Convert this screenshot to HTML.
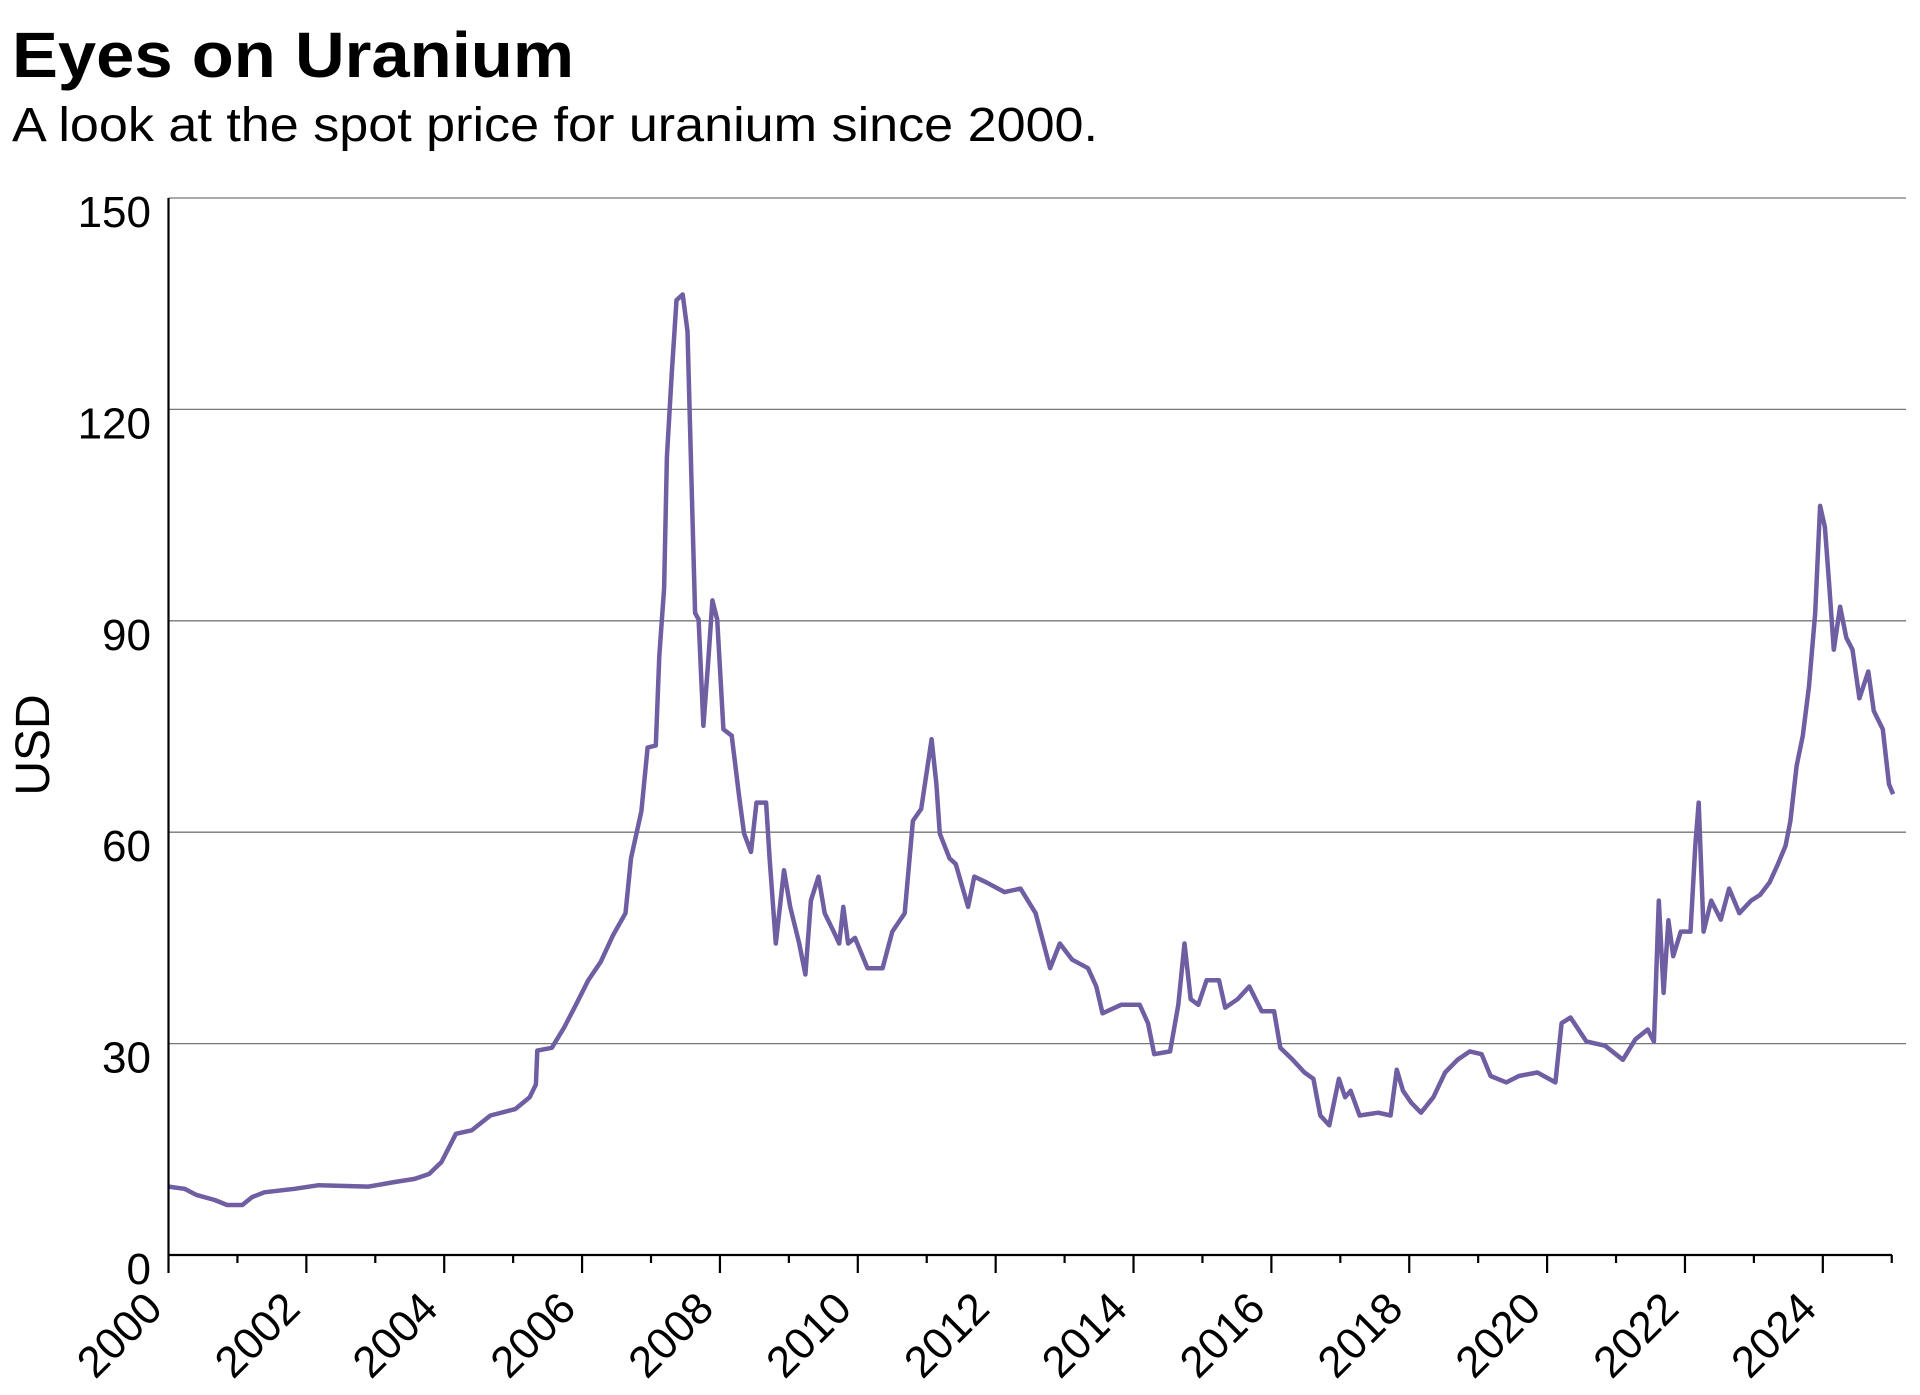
<!DOCTYPE html>
<html><head><meta charset="utf-8"><style>
html,body{margin:0;padding:0;background:#fff;width:1920px;height:1395px;overflow:hidden}
svg text{font-family:"Liberation Sans",sans-serif;fill:#000}
</style></head><body>
<svg id="chart" width="1920" height="1395" viewBox="0 0 1920 1395" xmlns="http://www.w3.org/2000/svg">
<text x="12" y="77" font-size="64" font-weight="bold" textLength="562" lengthAdjust="spacingAndGlyphs">Eyes on Uranium</text>
<text x="12" y="141" font-size="48" textLength="1086" lengthAdjust="spacingAndGlyphs">A look at the spot price for uranium since 2000.</text>
<text transform="translate(49,745) rotate(-90)" text-anchor="middle" font-size="48">USD</text>
<g id="grid"></g><g id="yticks"></g><g id="xticks"></g>
<path id="series" fill="none" stroke="#6f5ea2" stroke-width="4.5" stroke-linejoin="round"/>
<line x1="168.5" y1="198" x2="168.5" y2="1255" stroke="#000" stroke-width="2.2"/>
<line x1="168" y1="1255" x2="1892" y2="1255" stroke="#000" stroke-width="2.2"/>
</svg>
<script>
const years=[2000.0,2000.23,2000.41,2000.67,2000.85,2001.07,2001.21,2001.39,2001.83,2002.18,2002.9,2003.25,2003.57,2003.78,2003.96,2004.17,2004.4,2004.67,2005.03,2005.24,2005.33,2005.35,2005.56,2005.74,2005.91,2006.09,2006.27,2006.45,2006.63,2006.71,2006.86,2006.95,2007.07,2007.12,2007.19,2007.23,2007.3,2007.37,2007.46,2007.53,2007.6,2007.64,2007.69,2007.76,2007.83,2007.89,2007.96,2008.05,2008.17,2008.28,2008.35,2008.45,2008.53,2008.67,2008.72,2008.81,2008.93,2009.02,2009.15,2009.24,2009.32,2009.43,2009.52,2009.65,2009.73,2009.79,2009.86,2009.96,2010.14,2010.36,2010.5,2010.68,2010.8,2010.92,2011.07,2011.14,2011.19,2011.33,2011.42,2011.6,2011.69,2011.86,2012.13,2012.36,2012.58,2012.79,2012.93,2013.11,2013.34,2013.46,2013.55,2013.82,2014.09,2014.21,2014.3,2014.53,2014.65,2014.74,2014.83,2014.94,2015.06,2015.24,2015.33,2015.51,2015.68,2015.86,2016.04,2016.13,2016.31,2016.48,2016.61,2016.71,2016.84,2016.98,2017.07,2017.15,2017.28,2017.55,2017.73,2017.82,2017.91,2018.03,2018.17,2018.35,2018.52,2018.7,2018.88,2019.05,2019.18,2019.41,2019.59,2019.86,2020.12,2020.21,2020.34,2020.57,2020.84,2021.1,2021.28,2021.46,2021.55,2021.62,2021.69,2021.76,2021.83,2021.94,2022.08,2022.15,2022.2,2022.27,2022.38,2022.52,2022.64,2022.79,2022.96,2023.09,2023.23,2023.35,2023.46,2023.53,2023.62,2023.71,2023.8,2023.89,2023.96,2024.03,2024.09,2024.16,2024.25,2024.34,2024.43,2024.53,2024.66,2024.74,2024.87,2024.96,2025.02];
const prices=[9.7,9.4,8.5,7.8,7.1,7.1,8.2,8.9,9.4,9.9,9.7,10.3,10.8,11.5,13.2,17.2,17.7,19.8,20.7,22.4,24.2,29.0,29.4,32.3,35.5,39.0,41.6,45.4,48.5,56.3,63.0,72.0,72.3,85.0,94.6,113.2,125.0,135.5,136.3,131.1,105.0,91.1,90.2,75.1,84.2,92.9,90.2,74.6,73.7,65.0,59.8,57.2,64.2,64.2,56.3,44.2,54.6,49.4,44.2,39.8,50.3,53.7,48.5,45.9,44.2,49.4,44.2,45.0,40.7,40.7,45.9,48.5,61.6,63.3,73.2,66.8,59.8,56.3,55.5,49.4,53.7,52.9,51.5,52.0,48.5,40.7,44.2,41.9,40.7,38.1,34.3,35.5,35.5,32.9,28.5,28.9,35.5,44.2,36.3,35.5,39.0,39.0,35.1,36.3,38.1,34.6,34.6,29.4,27.7,25.9,25.0,19.8,18.4,25.0,22.4,23.3,19.8,20.2,19.8,26.3,23.3,21.6,20.2,22.4,25.9,27.7,28.9,28.5,25.4,24.5,25.4,25.9,24.5,32.9,33.7,30.3,29.7,27.7,30.6,32.0,30.3,50.3,37.2,47.5,42.4,45.9,45.9,58.1,64.2,45.9,50.3,47.6,52.0,48.5,50.3,51.1,52.9,55.5,58.1,61.6,69.4,73.7,80.7,91.1,106.3,103.3,95.5,85.9,92.0,87.6,85.9,79.0,82.8,77.2,74.6,66.8,65.4];
const yTicks=[0,30,60,90,120,150];
const xTickYears=[2000,2001,2002,2003,2004,2005,2006,2007,2008,2009,2010,2011,2012,2013,2014,2015,2016,2017,2018,2019,2020,2021,2022,2023,2024,2025];
const xLabels=["2000","2002","2004","2006","2008","2010","2012","2014","2016","2018","2020","2022","2024"];
const X0=168.5,PXY=68.93,Y0=1255,PXV=(1255-198)/150,XR=1906;
const xs=y=>X0+(y-2000)*PXY, ys=v=>Y0-v*PXV;
const NS="http://www.w3.org/2000/svg";
const mk=(t,p,a)=>{const e=document.createElementNS(NS,t);for(const k in a)e.setAttribute(k,a[k]);p.appendChild(e);return e;};
const grid=document.getElementById('grid'),yt=document.getElementById('yticks'),xt=document.getElementById('xticks');
yTicks.forEach(v=>{
  if(v>0){const g=mk('line',grid,{x1:X0,x2:XR,y1:ys(v),y2:ys(v),stroke:'#777','stroke-width':1.3});
  
  }
  const t=mk('text',yt,{x:151,y:ys(v)+29,'text-anchor':'end','font-size':44});
  t.textContent=v;
  
  
});
xTickYears.forEach(y=>{
  const major=y%2===0;
  const l=mk('line',xt,{x1:xs(y),x2:xs(y),y1:Y0,y2:Y0+(major?18:8),stroke:'#000','stroke-width':2.2});
  
  
});
xLabels.forEach(s=>{
  const x=xs(+s)-4,y=Y0+56;
  const t=mk('text',xt,{x:x,y:y,'text-anchor':'end','font-size':44,transform:`rotate(-45 ${x} ${y})`});
  t.textContent=s;
  
  
});
document.getElementById('series').setAttribute('d',years.map((y,i)=>(i?'L':'M')+xs(y).toFixed(1)+' '+ys(prices[i]).toFixed(1)).join(' '));
</script>
</body></html>
